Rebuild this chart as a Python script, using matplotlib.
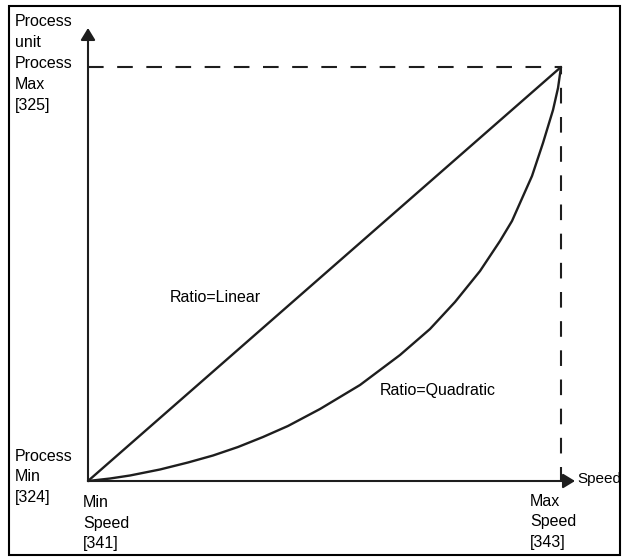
import matplotlib
matplotlib.use("Agg")
import matplotlib.pyplot as plt
from matplotlib.patches import Rectangle

# Data (speed and process value in % of range)
speed_linear = [0, 100]
process_linear = [0, 100]

speed_quad = [0, 4.65, 8.88, 15.22, 21.14, 26.43, 31.71, 37.0, 42.28, 49.05, 57.51,
              65.96, 72.30, 77.59, 82.88, 87.10, 89.64, 91.33, 93.87, 96.19, 98.31,
              99.37, 100]
process_quad = [0, 0.60, 1.33, 2.78, 4.47, 6.16, 8.21, 10.63, 13.29, 17.39, 23.19,
                30.43, 36.71, 43.24, 50.72, 57.97, 62.80, 67.15, 73.67, 81.64, 89.61,
                94.93, 100]

y_labels = ["Process\nunit\nProcess\nMax\n[325]", "Process\nMin\n[324]"]
x_labels = ["Min\nSpeed\n[341]", "Max\nSpeed\n[343]"]
curve_labels = ["Ratio=Linear", "Ratio=Quadratic"]

W, H = 624, 559
x0, y0 = 88, 481      # pixel of origin
x1, y1 = 561, 67      # pixel of max/max
sx = (x1 - x0) / 100.0
sy = (y0 - y1) / 100.0

col = "#1e1e1e"
plt.rcParams["font.family"] = ["Liberation Sans", "DejaVu Sans"]

fig = plt.figure(figsize=(W / 100, H / 100), dpi=100)
ax = fig.add_axes([0, 0, 1, 1])
ax.set_xlim(-x0 / sx, (W - x0) / sx)
ax.set_ylim((y0 - H) / sy, y0 / sy)
ax.axis("off")

# frame around the figure
fig.patches.append(Rectangle((8.5 / W, 1 - 555 / H), (620 - 8.5) / W, (555 - 5.5) / H,
                             transform=fig.transFigure, fill=False, lw=1.5, ec="black"))

# axes with arrows
arrow = dict(arrowstyle="-|>,head_length=0.36,head_width=0.22", mutation_scale=20,
             lw=1.5, color=col, shrinkA=0, shrinkB=0)
ax.annotate("", xy=(0, (y0 - 28) / sy), xytext=(0, 0), arrowprops=arrow)
ax.annotate("", xy=((575 - x0) / sx, 0), xytext=(0, 0), arrowprops=arrow)

# dashed max lines
ax.plot([0, 100], [100, 100], color=col, lw=1.5, linestyle=(0, (7.5, 6.5)))
ax.plot([100, 100], [100, 0], color=col, lw=1.5, linestyle=(4, (7.5, 6.5)))

# curves
ax.plot(speed_linear, process_linear, color=col, lw=1.7, solid_capstyle="round")
ax.plot(speed_quad, process_quad, color=col, lw=1.7, solid_capstyle="round",
        solid_joinstyle="round")

fs = 11.5


def put(px, py, s, va="top", size=fs, ls=1.5):
    fig.text(px / W, 1 - py / H, s, fontsize=size, color="black", ha="left", va=va,
             linespacing=ls)


put(15, 13.5, y_labels[0], ls=1.52)
put(15, 449, y_labels[1], ls=1.45)
put(83, 495, x_labels[0], ls=1.47)
put(530, 493.5, x_labels[1], ls=1.47)
put(577, 479, "Speed", va="center", size=11)
put(170, 297, curve_labels[0], va="center")
put(380, 390, curve_labels[1], va="center")

fig.savefig("out.png", dpi=100)
